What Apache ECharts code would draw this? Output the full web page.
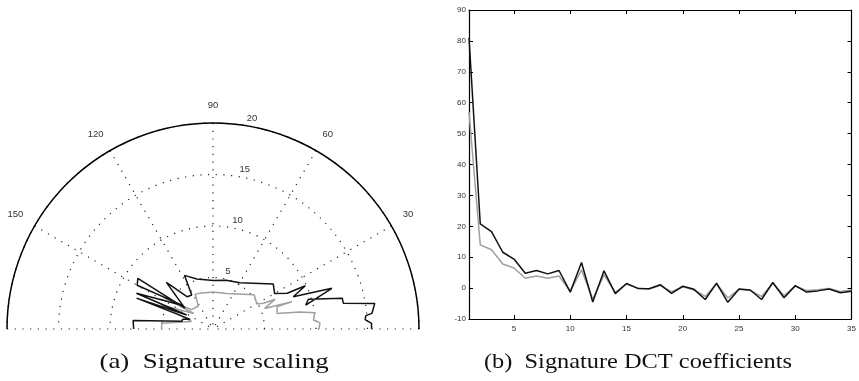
<!DOCTYPE html>
<html>
<head>
<meta charset="utf-8">
<script src="https://cdn.jsdelivr.net/npm/echarts@6/dist/echarts.min.js"></script>
<style>
  html, body { margin: 0; padding: 0; background: #fff; }
  #main { width: 859px; height: 381px; }
</style>
</head>
<body>
<div id="main"></div>
<script>
// (a) signature in polar form: [radius, angle in degrees]
var sigBlack = [
  [15.4, 0], [15.4, 2.0], [14.8, 3.5], [14.9, 5.0], [15.5, 5.6], [15.9, 9.0],
  [12.9, 11.2], [12.9, 13.4], [9.7, 17.3], [9.3, 14.5], [12.2, 18.9], [8.4, 21.9],
  [9.9, 25.1], [8.0, 25.7], [6.9, 29.9], [7.3, 36.7], [5.2, 59.7], [4.9, 75],
  [4.7, 89.6], [5.1, 108], [5.9, 118], [3.9, 122], [4.0, 128.5], [6.4, 135],
  [3.4, 143.5], [8.8, 146], [8.5, 150], [3.8, 142.5], [8.2, 155], [2.9, 152],
  [8.0, 158], [2.4, 157], [3.1, 162], [3.1, 166], [7.8, 174], [7.7, 180]
];
var sigGray = [
  [10.3, 0], [10.4, 3.4], [9.8, 5.1], [10.0, 9.1], [8.6, 11.1], [6.4, 13.7],
  [6.6, 19.3], [8.1, 19.1], [5.4, 21.7], [6.7, 25.6], [5.5, 27], [4.9, 29.8],
  [5.2, 39.7], [3.7, 69], [3.6, 90], [3.7, 110], [3.8, 117], [2.65, 122.6],
  [2.8, 138], [5.7, 147.5], [2.4, 141], [5.5, 155], [2.2, 161], [5.0, 173.7],
  [5.0, 180]
];
var radiusTicks = [5, 10, 15, 20];

// (b) DCT coefficients
var dctIndex = [1, 2, 3, 4, 5, 6, 7, 8, 9, 10, 11, 12, 13, 14, 15, 16, 17, 18,
  19, 20, 21, 22, 23, 24, 25, 26, 27, 28, 29, 30, 31, 32, 33, 34, 35];
var dctBlack = [81, 20.8, 18.3, 11.6, 9.4, 4.8, 5.7, 4.6, 5.7, -1.3, 8.3, -4.5,
  5.6, -1.8, 1.5, -0.1, -0.2, 1.1, -1.7, 0.6, -0.4, -3.7, 1.6, -4.6, -0.3, -0.6,
  -3.7, 1.8, -3.1, 0.8, -1.3, -0.9, -0.3, -1.5, -1.0];
var dctGray = [57, 14.0, 12.4, 7.8, 6.5, 3.2, 3.9, 3.2, 3.9, -1.0, 5.9, -3.5,
  4.3, -1.4, 1.3, 0.0, -0.3, 0.8, -1.2, 0.4, -0.6, -2.7, 1.4, -3.2, -0.4, -0.8,
  -2.7, 1.6, -2.4, 0.6, -0.8, -0.5, -0.1, -1.1, -0.6];
var dctTicks = [5, 10, 15, 20, 25, 30, 35];

var myChart = echarts.init(document.getElementById('main'));

var dotted = { color: '#222', width: 1.2, type: [1.2, 6.5] };
var labelFont = { fontFamily: 'Liberation Sans', fontSize: 8, color: '#333' };

function pairs(xs, ys) {
  return xs.map(function (x, i) { return [x, ys[i]]; });
}

var option = {
  animation: false,
  backgroundColor: '#fff',
  polar: { center: [213, 329], radius: 206 },
  angleAxis: {
    type: 'value',
    min: 0,
    max: 180,
    interval: 30,
    startAngle: 0,
    endAngle: 180,
    clockwise: false,
    axisLine: { lineStyle: { color: '#000', width: 1.5 } },
    axisTick: { show: false },
    axisLabel: {
      fontFamily: 'Liberation Sans', fontSize: 9.5, color: '#333', margin: 13,
      formatter: function (v) { return (v === 0 || v === 180) ? '' : v; }
    },
    splitLine: { show: true, lineStyle: dotted }
  },
  radiusAxis: {
    type: 'value',
    min: 0,
    max: 20,
    interval: 5,
    axisLine: { show: false },
    axisTick: { show: false },
    axisLabel: { show: false },
    splitLine: { show: true, lineStyle: dotted }
  },
  grid: { left: 469, top: 10, width: 391, height: 309 },
  xAxis: [
    {
      type: 'value', min: 1, max: 35, gridIndex: 0, position: 'bottom',
      axisLine: { onZero: false, lineStyle: { color: '#000', width: 1.2 } },
      axisTick: { inside: true, length: 4, customValues: dctTicks, lineStyle: { color: '#000' } },
      axisLabel: Object.assign({ margin: 6, customValues: dctTicks }, labelFont),
      splitLine: { show: false }
    },
    {
      type: 'value', min: 1, max: 35, gridIndex: 0, position: 'top',
      axisLine: { onZero: false, lineStyle: { color: '#000', width: 1.2 } },
      axisTick: { inside: true, length: 4, customValues: dctTicks, lineStyle: { color: '#000' } },
      axisLabel: { show: false },
      splitLine: { show: false }
    }
  ],
  yAxis: [
    {
      type: 'value', min: -10, max: 90, interval: 10, position: 'left',
      axisLine: { onZero: false, lineStyle: { color: '#000', width: 1.2 } },
      axisTick: { inside: true, length: 4, lineStyle: { color: '#000' } },
      axisLabel: Object.assign({ margin: 3 }, labelFont),
      splitLine: { show: false }
    },
    {
      type: 'value', min: -10, max: 90, interval: 10, position: 'right',
      axisLine: { onZero: false, lineStyle: { color: '#000', width: 1.2 } },
      axisTick: { inside: true, length: 4, lineStyle: { color: '#000' } },
      axisLabel: { show: false },
      splitLine: { show: false }
    }
  ],
  series: [
    {
      name: 'sig gray', type: 'line', coordinateSystem: 'polar',
      data: sigGray, symbol: 'none', silent: true,
      lineStyle: { color: '#a0a0a0', width: 1.5 }
    },
    {
      name: 'sig black', type: 'line', coordinateSystem: 'polar',
      data: sigBlack, symbol: 'none', silent: true,
      lineStyle: { color: '#111', width: 1.5 }
    },
    {
      name: 'dct gray', type: 'line', xAxisIndex: 0, yAxisIndex: 0,
      data: pairs(dctIndex, dctGray), symbol: 'none', silent: true,
      lineStyle: { color: '#a0a0a0', width: 1.5 }
    },
    {
      name: 'dct black', type: 'line', xAxisIndex: 0, yAxisIndex: 0,
      data: pairs(dctIndex, dctBlack), symbol: 'none', silent: true,
      lineStyle: { color: '#111', width: 1.5 }
    }
  ]
};
myChart.setOption(option);

// radius labels near 82 degrees, like matlab polar
var graphics = radiusTicks.map(function (r) {
  var p = myChart.convertToPixel({ seriesIndex: 0 }, [r, 82]);
  return {
    type: 'text', x: p[0] + 5, y: p[1] - 2, silent: true,
    style: {
      text: String(r), fontFamily: 'Liberation Sans', fontSize: 9.5,
      fill: '#333', textAlign: 'left', textVerticalAlign: 'bottom'
    }
  };
});
graphics.push({
  type: 'text', x: 214, y: 362, scaleX: 1.28, silent: true,
  style: {
    text: '(a)  Signature scaling', fontFamily: 'Liberation Serif', fontSize: 21,
    fill: '#111', textAlign: 'center', textVerticalAlign: 'middle'
  }
});
graphics.push({
  type: 'text', x: 638, y: 362, scaleX: 1.16, silent: true,
  style: {
    text: '(b)  Signature DCT coefficients', fontFamily: 'Liberation Serif', fontSize: 21,
    fill: '#111', textAlign: 'center', textVerticalAlign: 'middle'
  }
});
myChart.setOption({ graphic: graphics });
</script>
</body>
</html>
